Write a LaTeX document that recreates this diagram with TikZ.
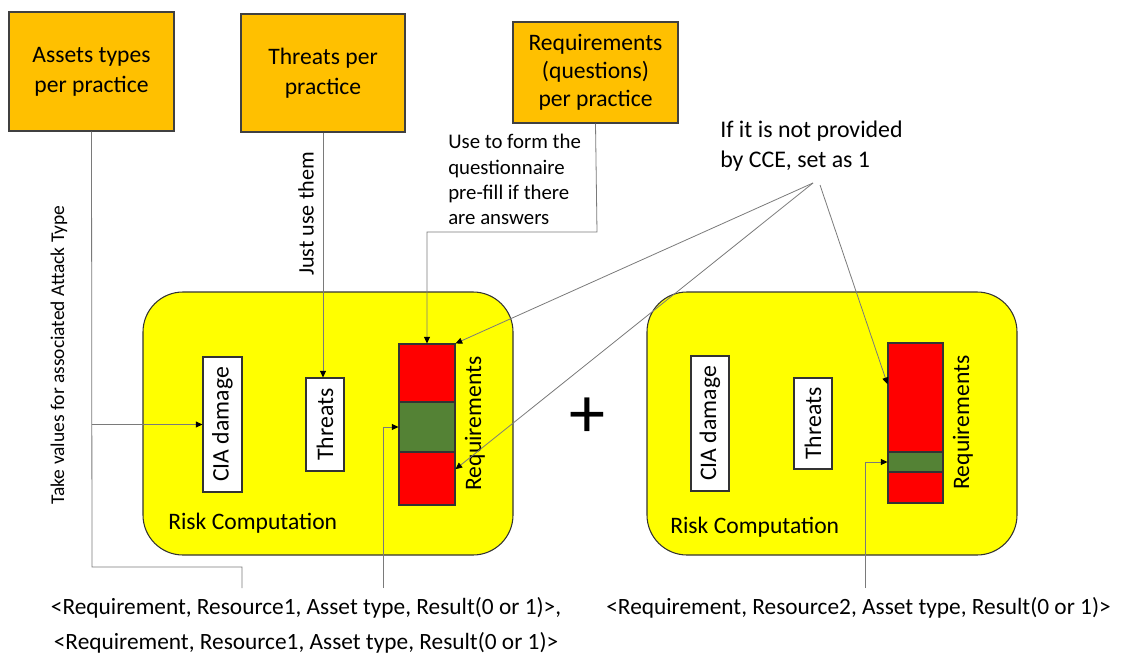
\documentclass[tikz,border=0pt]{standalone}
\usepackage{fontspec}
\setmainfont{Carlito}
\usetikzlibrary{arrows.meta}
\definecolor{srcorange}{HTML}{FFC000}
\definecolor{riskyellow}{HTML}{FFFF00}
\definecolor{reqred}{HTML}{FF0000}
\definecolor{reqgreen}{HTML}{548235}
\definecolor{wire}{HTML}{7A7A7A}
\newdimen\px \px=0.75pt
\tikzset{
  source/.style={draw=black!75, fill=srcorange, line width=0.8pt, align=center,
    inner sep=0pt, font=\fontsize{17.7}{22.5}\selectfont},
  riskbox/.style={draw=black!80, fill=riskyellow, line width=0.8pt,
    rounded corners=30pt, inner sep=0pt},
  whitebox/.style={draw=black!80, fill=white, line width=0.8pt, inner sep=0pt,
    rotate=90, font=\fontsize{17.8}{20}\selectfont},
  segred/.style={draw=black!80, fill=reqred, line width=0.8pt, inner sep=0pt},
  seggreen/.style={draw=black!80, fill=reqgreen, line width=0.8pt, inner sep=0pt},
  note/.style={align=left, inner sep=0pt, font=\fontsize{15.6}{19}\selectfont},
  plain/.style={inner sep=0pt, font=\fontsize{17.7}{20}\selectfont},
  wireline/.style={draw=wire, line width=0.6pt},
  arrowline/.style={draw=wire, line width=0.6pt, -{Triangle[length=5pt,width=4.5pt,color=black]}},
  tuple/.style={align=center, inner sep=0pt, font=\fontsize{17.5}{26}\selectfont},
}
\begin{document}
\begin{tikzpicture}[x=0.75pt,y=-0.75pt]
\path[use as bounding box] (0,0) rectangle (1122,657);

% input sources
\node[source, minimum width=165\px, minimum height=119\px] (assets) at (91.5,71.5)
  {Assets types\\per practice};
\node[source, minimum width=164\px, minimum height=118\px] (threatsrc) at (323,73)
  {Threats per\\practice};
\node[source, minimum width=165\px, minimum height=101\px,
  font=\fontsize{17.7}{20.8}\selectfont] (reqsrc) at (595.5,72.5)
  {Requirements\\(questions)\\per practice};

% first risk computation block
\node[riskbox, minimum width=370\px, minimum height=263\px] (risk1) at (328,423.5) {};
\node[whitebox, minimum width=135\px, minimum height=39\px] (cia1) at (222.5,424.5) {CIA damage};
\node[whitebox, minimum width=93\px, minimum height=38\px] (thr1) at (325,424.5) {Threats};
\node[segred, minimum width=56\px, minimum height=58\px] (bar1a) at (427,373) {};
\node[seggreen, minimum width=56\px, minimum height=50\px] (bar1b) at (427,427) {};
\node[segred, minimum width=56\px, minimum height=53\px] (bar1c) at (427,478.5) {};
\node[plain, rotate=90] (req1) at (475,423.5) {Requirements};
\node[plain, anchor=west] (rc1) at (168,523) {Risk Computation};

% second risk computation block
\node[riskbox, minimum width=370\px, minimum height=263\px] (risk2) at (832,423.5) {};
\node[whitebox, minimum width=135\px, minimum height=38\px] (cia2) at (710,423.5) {CIA damage};
\node[whitebox, minimum width=91\px, minimum height=38\px] (thr2) at (813,423.5) {Threats};
\node[segred, minimum width=55\px, minimum height=109\px] (bar2a) at (915.5,397.5) {};
\node[seggreen, minimum width=55\px, minimum height=20\px] (bar2b) at (915.5,462) {};
\node[segred, minimum width=55\px, minimum height=31\px] (bar2c) at (915.5,487.5) {};
\node[plain, rotate=90] (req2) at (963,422.5) {Requirements};
\node[plain, anchor=west] (rc2) at (670,527) {Risk Computation};

\node[inner sep=0pt, font=\fontsize{54}{54}\selectfont] (plus) at (587,418) {+};

% annotations
\node[rotate=90, inner sep=0pt, font=\fontsize{14.6}{18}\selectfont] (takeval) at (59,355)
  {Take values for associated Attack Type};
\node[rotate=90, inner sep=0pt, font=\fontsize{16.6}{18}\selectfont] (justuse) at (306,214)
  {Just use them};
\node[note, anchor=north west] (prefill) at (448,134)
  {Use to form the\\questionnaire\\pre-fill if there\\are answers};
\node[align=left, inner sep=0pt, anchor=north west, font=\fontsize{17.9}{22.5}\selectfont] (cce) at (720,121)
  {If it is not provided\\by CCE, set as 1};

% result tuples
\node[tuple] (tuple1) at (306,625.5)
  {<Requirement, Resource1, Asset type, Result(0 or 1)>,\\<Requirement, Resource1, Asset type, Result(0 or 1)>};
\node[tuple] (tuple2) at (858.5,608)
  {<Requirement, Resource2, Asset type, Result(0 or 1)>};

% junction points
\coordinate (cceA) at (813,183);
\coordinate (cceB) at (820,185);
\coordinate (assetsDrop) at (92,567);
\coordinate (tupleAsset) at (242,588);
\coordinate (tupleReq1) at (383,588);
\coordinate (tupleReq2) at (865,588);
\coordinate (reqBend) at (597,232);

% asset types: to CIA damage and down to the tuples
\draw[wireline] (assets.south) -- (assetsDrop) -| (tupleAsset);
\draw[arrowline] (assets.south |- cia1.north) -- (cia1.north);
% threats
\draw[arrowline] (threatsrc.south) -- (threatsrc.south |- thr1.east);
% requirements source
\draw[arrowline] (reqsrc.south) -- (reqBend) -| (bar1a.north);
% default value notes
\draw[arrowline] (cceA) -- (bar1a.north east);
\draw[arrowline] (cceA) -- ([yshift=7pt]bar1c.east);
\draw[arrowline] (cceB) -- ([yshift=10pt]bar2a.west);
% results feeding requirements
\draw[arrowline] (tupleReq1) |- (bar1b.west);
\draw[arrowline] (tupleReq2) |- (bar2b.west);
\end{tikzpicture}
\end{document}
